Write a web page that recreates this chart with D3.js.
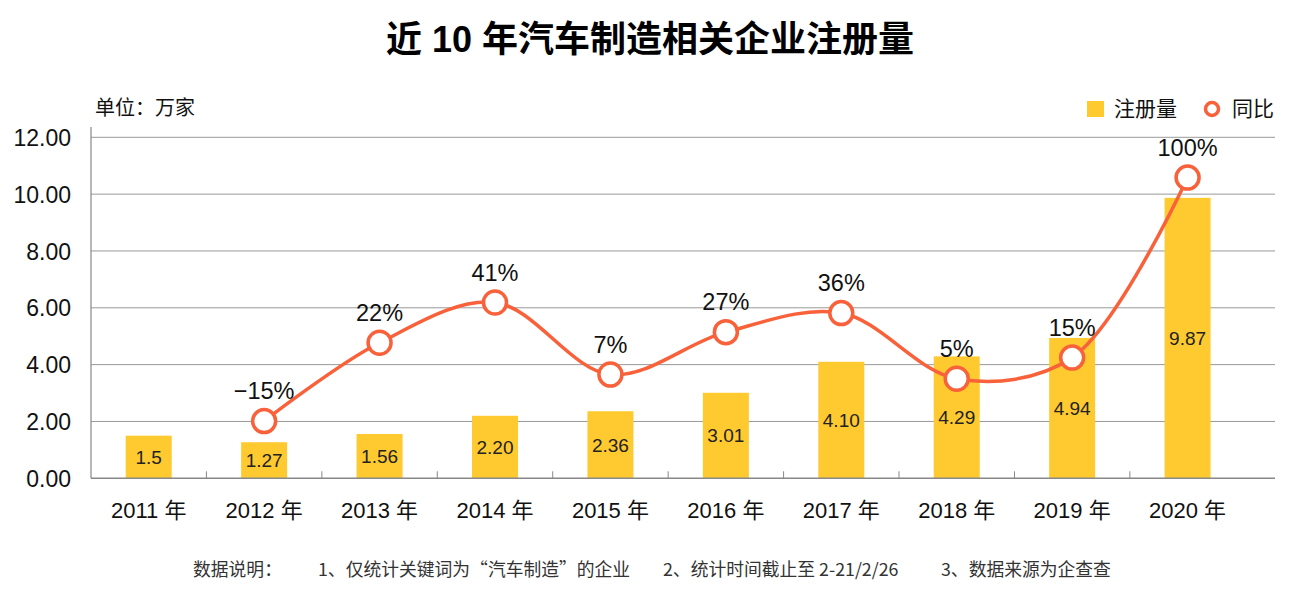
<!DOCTYPE html>
<html>
<head>
<meta charset="utf-8">
<script src="https://cdn.jsdelivr.net/npm/d3@7"></script>
<style>
  body { margin: 0; background: #fff; }
  text { font-family: "Liberation Sans", Arial, "Noto Sans CJK SC", sans-serif; }
</style>
</head>
<body>
<div id="chart"></div>
<script>
// data
var years = ["2011 年", "2012 年", "2013 年", "2014 年", "2015 年", "2016 年", "2017 年", "2018 年", "2019 年", "2020 年"];
var counts = [1.5, 1.27, 1.56, 2.20, 2.36, 3.01, 4.10, 4.29, 4.94, 9.87];
var countLabels = ["1.5", "1.27", "1.56", "2.20", "2.36", "3.01", "4.10", "4.29", "4.94", "9.87"];
var yoy = [null, -15, 22, 41, 7, 27, 36, 5, 15, 100];
var yTicks = [0, 2, 4, 6, 8, 10, 12];
var notes = ["数据说明：", "1、仅统计关键词为“汽车制造”的企业", "2、统计时间截止至 2-21/2/26", "3、数据来源为企查查"];

var W = 1298, H = 598;
var plotLeft = 91, plotRight = 1275, plotTop = 137.3, plotBottom = 478.3;

var svg = d3.select("#chart").append("svg")
  .attr("width", W)
  .attr("height", H);

var x = d3.scaleBand().domain(years).range([plotLeft, 1245.3]);
var y = d3.scaleLinear().domain([0, 12]).range([plotBottom, plotTop]);
// hidden secondary axis for the 同比 line
var y2 = d3.scaleLinear().domain([-42, 119]).range([plotBottom, plotTop]);

// title
svg.append("text")
  .text("近 10 年汽车制造相关企业注册量")
  .attr("x", 650)
  .attr("y", 52)
  .attr("text-anchor", "middle")
  .style("font-size", "36px")
  .style("font-weight", "bold")
  .attr("fill", "#000");

svg.append("text")
  .text("单位：万家")
  .attr("x", 95)
  .attr("y", 115)
  .style("font-size", "20px")
  .attr("fill", "#111");

// grid
svg.append("g").selectAll("line")
  .data(yTicks.filter(function(d){ return d > 0; }))
  .enter().append("line")
    .attr("x1", plotLeft)
    .attr("x2", plotRight)
    .attr("y1", function(d){ return y(d); })
    .attr("y2", function(d){ return y(d); })
    .attr("stroke", "#999")
    .attr("stroke-width", 1);

// y axis labels
var yAxis = d3.axisLeft(y).tickValues(yTicks).tickFormat(d3.format(".2f")).tickSize(0).tickPadding(20);
var ya = svg.append("g").attr("transform", "translate(" + plotLeft + ",0)").call(yAxis);
ya.select(".domain").remove();
ya.selectAll("text").style("font-size", "23px").attr("fill", "#111").attr("dy", "0.35em");

svg.append("line")
  .attr("x1", plotLeft).attr("x2", plotLeft)
  .attr("y1", 127).attr("y2", plotBottom)
  .attr("stroke", "#888").attr("stroke-width", 1.2);

// bars
var barW = 46;
svg.append("g").selectAll("rect")
  .data(counts)
  .enter().append("rect")
    .attr("x", function(d, i){ return x(years[i]) + x.bandwidth() / 2 - barW / 2; })
    .attr("y", function(d){ return y(d); })
    .attr("width", barW)
    .attr("height", function(d){ return plotBottom - y(d); })
    .attr("fill", "#FFCA30");

svg.append("g").selectAll("text")
  .data(counts)
  .enter().append("text")
    .text(function(d, i){ return countLabels[i]; })
    .attr("x", function(d, i){ return x(years[i]) + x.bandwidth() / 2; })
    .attr("y", function(d){ return (y(d) + plotBottom) / 2; })
    .attr("dy", "0.36em")
    .attr("text-anchor", "middle")
    .style("font-size", "19px")
    .attr("fill", "#222");

// x axis
svg.append("line")
  .attr("x1", plotLeft).attr("x2", plotRight)
  .attr("y1", plotBottom).attr("y2", plotBottom)
  .attr("stroke", "#888").attr("stroke-width", 1.5);

svg.append("g").selectAll("line")
  .data(years.slice(1))
  .enter().append("line")
    .attr("x1", function(d){ return x(d); })
    .attr("x2", function(d){ return x(d); })
    .attr("y1", plotBottom - 7)
    .attr("y2", plotBottom)
    .attr("stroke", "#888");

svg.append("g").selectAll("text")
  .data(years)
  .enter().append("text")
    .text(function(d){ return d; })
    .attr("x", function(d){ return x(d) + x.bandwidth() / 2; })
    .attr("y", 518)
    .attr("text-anchor", "middle")
    .style("font-size", "22px")
    .attr("fill", "#111");

// yoy line
var pts = [];
yoy.forEach(function(v, i){
  if (v !== null) pts.push({ x: x(years[i]) + x.bandwidth() / 2, y: y2(v), v: v });
});

var line = d3.line()
  .x(function(d){ return d.x; })
  .y(function(d){ return d.y; })
  .curve(d3.curveCatmullRom.alpha(0.5));

svg.append("path")
  .datum(pts)
  .attr("d", line)
  .attr("fill", "none")
  .attr("stroke", "#F8613A")
  .attr("stroke-width", 3.5);

svg.append("g").selectAll("circle")
  .data(pts)
  .enter().append("circle")
    .attr("cx", function(d){ return d.x; })
    .attr("cy", function(d){ return d.y; })
    .attr("r", 11.5)
    .attr("fill", "#fff")
    .attr("stroke", "#F8613A")
    .attr("stroke-width", 3.5);

svg.append("g").selectAll("text")
  .data(pts)
  .enter().append("text")
    .text(function(d){ return (d.v < 0 ? "\u2212" + (-d.v) : d.v) + "%"; })
    .attr("x", function(d){ return d.x; })
    .attr("y", function(d){ return d.y - 22; })
    .attr("text-anchor", "middle")
    .style("font-size", "23.5px")
    .attr("fill", "#111");

// legend
svg.append("rect")
  .attr("x", 1087).attr("y", 101)
  .attr("width", 17).attr("height", 16)
  .attr("fill", "#FFCA30");
svg.append("text")
  .text("注册量")
  .attr("x", 1114).attr("y", 116)
  .style("font-size", "21px")
  .attr("fill", "#111");
svg.append("circle")
  .attr("cx", 1212).attr("cy", 109)
  .attr("r", 6.5)
  .attr("fill", "#fff")
  .attr("stroke", "#F8613A")
  .attr("stroke-width", 3.5);
svg.append("text")
  .text("同比")
  .attr("x", 1232).attr("y", 116)
  .style("font-size", "21px")
  .attr("fill", "#111");

// footnote
var noteX = [193, 318, 663, 941];
svg.append("g").selectAll("text")
  .data(notes)
  .enter().append("text")
    .text(function(d){ return d; })
    .attr("x", function(d, i){ return noteX[i]; })
    .attr("y", 576)
    .style("font-size", "17.8px")
    .style("font-family", "'Noto Sans CJK SC', sans-serif")
    .attr("fill", "#333");
</script>
</body>
</html>
